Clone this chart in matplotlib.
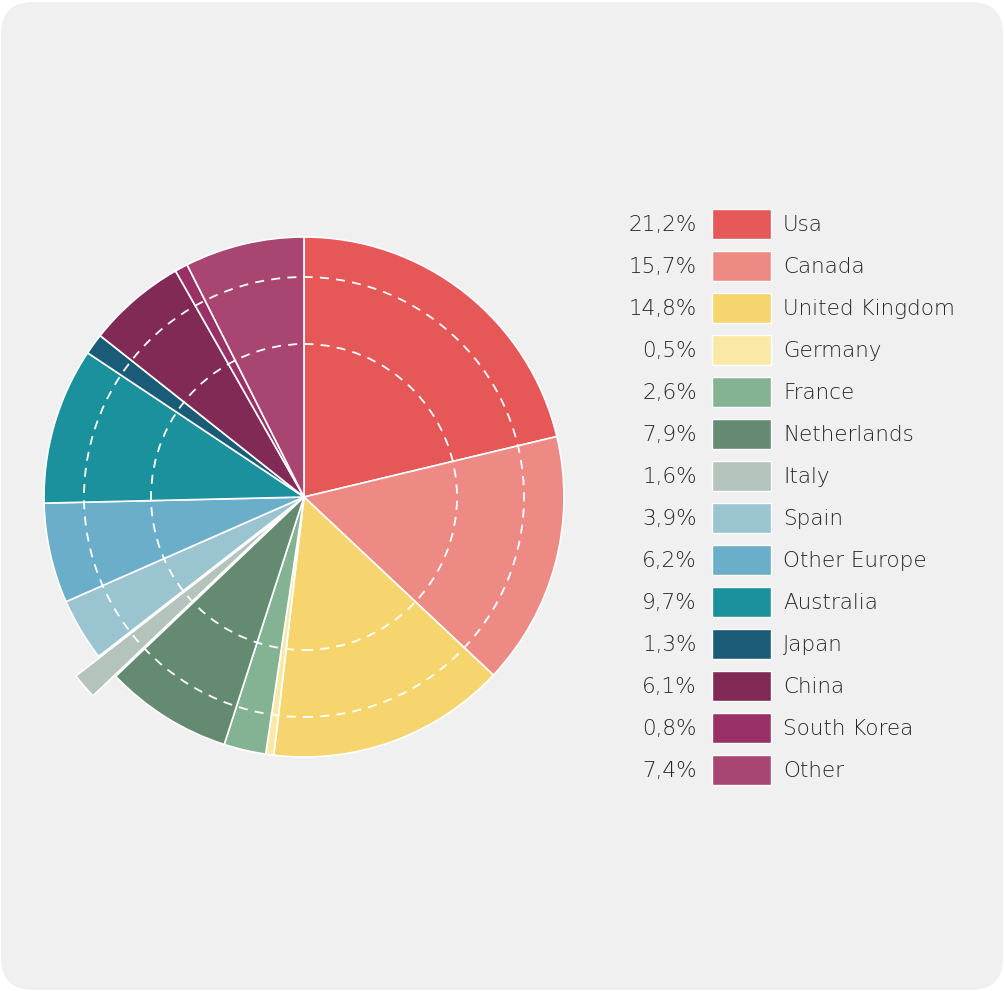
import matplotlib.pyplot as plt
from matplotlib.patches import Circle, Rectangle, FancyBboxPatch

# Reparto por país (porcentaje)
paises = ['Usa', 'Canada', 'United Kingdom', 'Germany', 'France', 'Netherlands',
          'Italy', 'Spain', 'Other Europe', 'Australia', 'Japan', 'China',
          'South Korea', 'Other']
porcentajes = [21.2, 15.7, 14.8, 0.5, 2.6, 7.9, 1.6, 3.9, 6.2, 9.7, 1.3, 6.1, 0.8, 7.4]
colores = ['#e65757', '#ee8a84', '#f7d56e', '#f9e8a6', '#83b393', '#648b71',
           '#b4c4bd', '#9bc4d1', '#6baec9', '#1a919d', '#1a5c77', '#822a56',
           '#9a3166', '#a84570']
destacado = 'Italy'

W, H = 1005, 991
FONDO = '#f0f0f0'
TEXTO = '#262626'
FUENTE = dict(family=['DejaVu Sans'], fontweight='light', fontsize=15.5)

fig = plt.figure(figsize=(W / 100, H / 100), dpi=100, facecolor='white')
ax = fig.add_axes([0, 0, 1, 1])

# tarjeta gris con esquinas redondeadas
ax.add_patch(FancyBboxPatch((1, 1), W - 3, H - 3,
                            boxstyle='round,pad=0,rounding_size=32',
                            facecolor=FONDO, edgecolor='none', zorder=0))

cx, cy, radio = 304, H - 497, 260
# en ax.pie el desplazamiento va en unidades de datos
explode = [30 if p == destacado else 0 for p in paises]

ax.pie(porcentajes, colors=colores, startangle=90, counterclock=False,
       radius=radio, center=(cx, cy), explode=explode,
       wedgeprops=dict(edgecolor='white', linewidth=1.2))

# anillos discontinuos de referencia
for r in (153, 220):
    ax.add_patch(Circle((cx, cy), r, fill=False, edgecolor='white',
                        linewidth=1.3, linestyle=(0, (5, 4)), zorder=5))

# leyenda con porcentajes
y0, paso = H - 225, 42
for i, (nombre, valor, color) in enumerate(zip(paises, porcentajes, colores)):
    y = y0 - i * paso
    etiqueta = f'{valor:.1f}'.replace('.', ',') + '%'
    ax.text(697, y, etiqueta, ha='right', va='center', color=TEXTO, **FUENTE)
    ax.add_patch(Rectangle((712, y - 14), 59, 30, facecolor=color,
                           edgecolor='white', linewidth=1, zorder=3))
    ax.text(783, y, nombre, ha='left', va='center', color=TEXTO, **FUENTE)

ax.set_xlim(0, W)
ax.set_ylim(0, H)
ax.set_aspect('equal')
ax.axis('off')

fig.savefig('out.png', dpi=100, facecolor='white')
